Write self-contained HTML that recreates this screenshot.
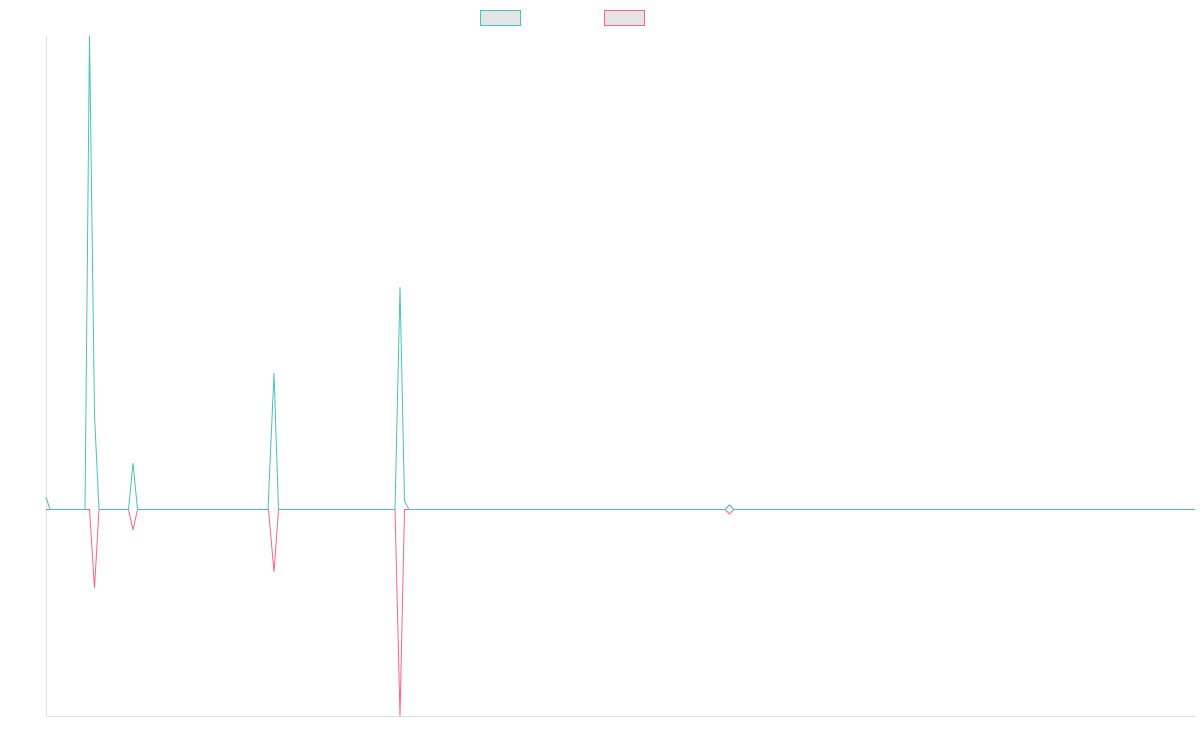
<!DOCTYPE html>
<html><head><style>body{margin:0;background:#fff}</style></head><body>
<svg width="1200" height="750" xmlns="http://www.w3.org/2000/svg">
<rect x="480.5" y="10.5" width="40" height="15" fill="#e4e4e4" stroke="#4bc0c0" stroke-width="1"/>
<rect x="604.5" y="10.5" width="40" height="15" fill="#e4e4e4" stroke="#ff6384" stroke-width="1"/>
<line x1="46.5" y1="36" x2="46.5" y2="716" stroke="#e0e0e0"/>
<line x1="46" y1="716.5" x2="1195" y2="716.5" stroke="#e0e0e0"/>
<polyline fill="none" stroke="#ff6384" stroke-width="1" points="46,509.5 89.5,509.5 94.5,588 99,509.5 128.5,509.5 133,530 137.5,509.5 268.5,509.5 274,572 278.5,509.5 395,509.5 400,716 404.5,509.5 1195,509.5"/>
<polyline fill="none" stroke="#4bc0c0" stroke-width="1" points="46,497 50,509.5 85,509.5 89.5,36 94.5,415 99,509.5 128.5,509.5 133,463 137.5,509.5 268,509.5 274,373 278.5,509.5 395,509.5 400,287 404.5,501 409,509.5 1195,509.5"/>
<polygon points="729.5,505 734,509.5 729.5,514 725,509.5" fill="#fff" stroke="#ff6384"/>
<polyline points="725,509.5 729.5,505 734,509.5" fill="none" stroke="#4bc0c0"/>
</svg>
</body></html>
